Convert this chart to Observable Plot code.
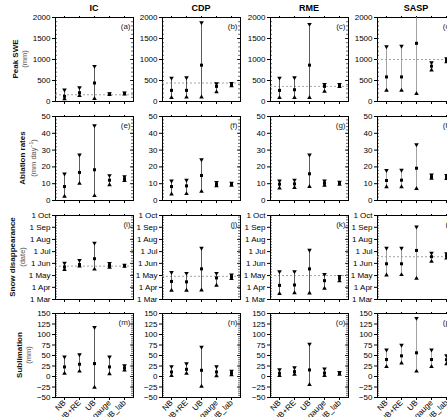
<!DOCTYPE html>
<html>
<head>
<meta charset="utf-8">
<script src="https://cdn.jsdelivr.net/npm/d3@7"></script>
<script src="https://cdn.jsdelivr.net/npm/@observablehq/plot@0.6"></script>
<style>
  body { margin: 0; background: #fff; }
  #wrap { position: relative; width: 447px; height: 417px; overflow: hidden; font-family: "Liberation Sans", Arial, sans-serif; }
  .pan { position: absolute; }
  .lab { position: absolute; white-space: nowrap; transform: translate(-50%, -50%) rotate(-90deg); line-height: 1; }
  .ttl { position: absolute; transform: translate(-50%, -50%); font-weight: bold; font-size: 9px; }
</style>
</head>
<body>
<div id="wrap"></div>
<script>
const categories = ["NB", "NB+RE", "UB", "NB_gauge", "NB_lab"];
const sites = ["IC", "CDP", "RME", "SASP"];
const letters = "abcdefghijklmnop".split("");

// Peak SWE (mm): rows = sites, columns = categories
const sweLow  = [[60,140,70,160,175],[90,100,105,225,370],[90,90,90,240,350],[265,265,185,745,940]];
const sweMid  = [[125,210,440,176,192],[265,265,865,360,400],[265,280,865,360,378],[585,585,1385,840,980]];
const sweHigh = [[280,330,840,190,205],[560,570,1880,425,430],[560,570,1840,410,410],[1305,1320,2150,925,1020]];
const sweRef  = [160, 440, 360, 1000];

// Ablation rates (mm/day)
const ablLow  = [[2.4,10.1,2.8,9.3,11.8],[3.8,4.0,5.4,8.6,9.0],[7.3,7.7,8.3,8.9,9.5],[8.1,8.1,7.1,13.2,13]];
const ablMid  = [[8.3,16.7,18.3,12.1,12.9],[8.3,8.7,14.9,9.5,9.6],[9.7,9.9,15.9,10.3,10.3],[11.9,12.1,19.2,14.1,14]];
const ablHigh = [[15.9,27.2,44.6,14.9,14.3],[11.7,12.1,24.4,10.8,10.4],[11.7,12.1,27.2,11.7,11.0],[17.9,18.1,33.3,15.3,15]];

// Snow disappearance (month-day)
const sddLow  = [["05-16","05-25","05-17","05-22","05-24"],["03-24","03-24","03-25","04-06","04-23"],["03-16","03-18","03-17","03-29","04-17"],["05-02","05-03","04-24","06-06","06-14"]];
const sddMid  = [["05-23","05-29","06-13","05-27","05-26"],["04-16","04-15","05-18","04-25","04-28"],["04-06","04-07","05-18","04-18","04-24"],["05-31","05-31","07-04","06-18","06-20"]];
const sddHigh = [["06-02","06-09","07-23","06-01","05-28"],["05-09","05-07","07-10","05-07","05-03"],["05-11","05-11","07-05","05-04","04-29"],["07-10","07-10","09-02","06-27","06-26"]];
const sddRef  = ["05-25", "04-29", "05-01", "06-18"];

// Sublimation (mm)
const subLow  = [[7.6,12.4,-26,6,14.8],[2,7.6,-23.6,1.2,4],[2,5.2,-19.6,2,5],[23.6,31.6,12.4,23.6,30]];
const subMid  = [[22.8,29.2,30.8,22.8,20.4],[10.8,17.2,14.8,10.8,8.4],[7.6,11.6,15.6,8.4,7.6],[40.4,49.2,56.4,40.4,40]];
const subHigh = [[46.8,52.4,117.2,46.8,26],[23.6,30.8,70,23.6,13],[16.4,21.2,77.2,18,10],[63.6,74.8,138.8,63.6,50]];

const md = s => new Date(`2001-${s}T00:00:00Z`);
const monthTicks = d3.utcMonths(md("03-01"), md("10-02"));
const num = d => d < 0 ? "−" + Math.abs(d) : String(d);

const rowsDef = [
  { label: "Peak SWE", sub: "(mm)", lx: 16, sx: 25, low: sweLow, mid: sweMid, high: sweHigh, ref: sweRef,
    y: { domain: [0, 2000] }, major: d3.range(0, 2001, 500), minor: d3.range(0, 2001, 100), fmt: num },
  { label: "Ablation rates", sub: "(mm day<sup style='font-size:5px'>−1</sup>)", lx: 23, sx: 33, low: ablLow, mid: ablMid, high: ablHigh, ref: null,
    y: { domain: [0, 50] }, major: d3.range(0, 51, 10), minor: d3.range(0, 51, 2), fmt: num },
  { label: "Snow disappearance", sub: "(date)", lx: 13, sx: 23, low: sddLow, mid: sddMid, high: sddHigh, ref: sddRef, date: true,
    y: { type: "utc", domain: [md("03-01"), md("10-01")] }, major: monthTicks, minor: d3.utcDays(md("03-01"), md("10-02"), 7), fmt: d3.utcFormat("%-d %b") },
  { label: "Sublimation", sub: "(mm)", lx: 20, sx: 29, low: subLow, mid: subMid, high: subHigh, ref: null,
    y: { domain: [-50, 150] }, major: d3.range(-50, 151, 25), minor: d3.range(-50, 151, 5), fmt: num }
];

const colX = [55, 162, 270, 377];
const rowY = [17, 116, 215, 313];
const FW = 78, FH = 84;
const wrap = document.getElementById("wrap");

rowsDef.forEach((R, ri) => {
  sites.forEach((site, ci) => {
    const conv = R.date ? md : (v => v);
    const data = categories.map((c, k) => ({
      cat: c, low: conv(R.low[ci][k]), mid: conv(R.mid[ci][k]), high: conv(R.high[ci][k])
    }));
    const lineColor = ci === 3 ? "#8a8a8a" : "#333";
    const mL = 45, mR = 12, mT = 10, mB = ri === 3 ? 50 : 10;
    const marks = [
      Plot.frame({ stroke: "black", strokeWidth: 1 }),
      Plot.axisY({ anchor: "left", ticks: R.major, tickSize: 3, tickPadding: 2, fontSize: 8, label: null, tickFormat: R.fmt }),
      Plot.ruleY(R.minor, { insetRight: FW - 2, stroke: "black", strokeWidth: 0.6 }),
      Plot.ruleY(R.minor, { insetLeft: FW - 2, stroke: "black", strokeWidth: 0.6 }),
      Plot.ruleY(R.major, { insetLeft: FW - 3, stroke: "black", strokeWidth: 0.8 }),
      Plot.axisX({ anchor: "top", tickSize: 2, label: null, tickFormat: () => "" }),
      Plot.axisX({ anchor: "bottom", tickSize: 3, label: null, tickRotate: -45, fontSize: 8, tickPadding: 1,
                   tickFormat: ri === 3 ? (d => d) : (() => "") })
    ];
    if (R.ref) {
      marks.push(Plot.ruleY([conv(R.ref[ci])], { stroke: "#999", strokeDasharray: "2,2", strokeWidth: 0.9 }));
    }
    marks.push(
      Plot.ruleX(data, { x: "cat", y1: "low", y2: "high", stroke: lineColor, strokeWidth: 0.8, clip: true }),
      Plot.dot(data, { x: "cat", y: "low", symbol: "triangle", r: 1.7, fill: "black", stroke: "none", clip: true }),
      Plot.dot(data, { x: "cat", y: "high", symbol: "triangle", rotate: 180, r: 1.7, fill: "black", stroke: "none", clip: true }),
      Plot.dot(data, { x: "cat", y: "mid", symbol: "square", r: 1.7, fill: "black", stroke: "none", clip: true }),
      Plot.text([`(${letters[ri * 4 + ci]})`], { frameAnchor: "top-right", dx: -3, dy: 6, fontSize: 8, fill: "#222" })
    );
    const chart = Plot.plot({
      width: mL + FW + mR, height: mT + FH + mB,
      marginLeft: mL, marginRight: mR, marginTop: mT, marginBottom: mB,
      style: { fontFamily: "Liberation Sans, Arial, sans-serif", fontSize: "8px", background: "transparent" },
      x: { type: "point", domain: categories, padding: 0.5, axis: null },
      y: { ...R.y, axis: null },
      marks
    });
    chart.classList.add("pan");
    chart.style.left = (colX[ci] - mL) + "px";
    chart.style.top = (rowY[ri] - mT) + "px";
    wrap.appendChild(chart);
  });
  const cy = rowY[ri] + FH / 2;
  const a = document.createElement("div");
  a.className = "lab";
  a.style.cssText = `left:${R.lx}px;top:${cy}px;font-weight:bold;font-size:8px;color:#111;`;
  a.textContent = R.label;
  wrap.appendChild(a);
  const b = document.createElement("div");
  b.className = "lab";
  b.style.cssText = `left:${R.sx}px;top:${cy}px;font-size:7.5px;color:#555;`;
  b.innerHTML = R.sub;
  wrap.appendChild(b);
});

sites.forEach((s, ci) => {
  const t = document.createElement("div");
  t.className = "ttl";
  t.style.left = (colX[ci] + FW / 2) + "px";
  t.style.top = "8px";
  t.textContent = s;
  wrap.appendChild(t);
});
</script>
</body>
</html>
